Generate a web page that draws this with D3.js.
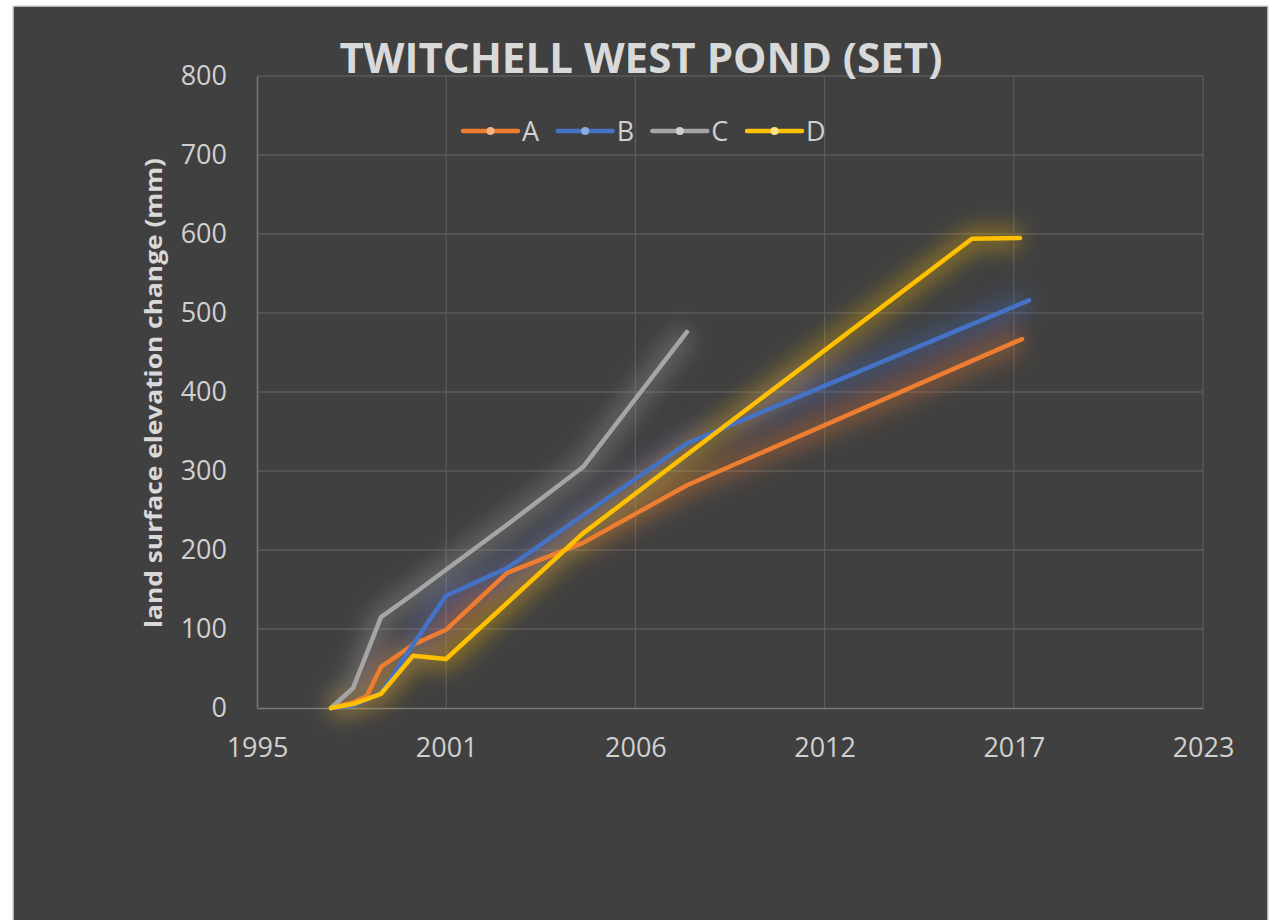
<!DOCTYPE html>
<html>
<head>
<meta charset="utf-8">
<script src="https://cdn.jsdelivr.net/npm/d3@7"></script>
<style>
  body { margin: 0; background: #fff; }
  text { font-family: 'Open Sans', sans-serif; }
</style>
</head>
<body>
<svg id="chart"></svg>
<script>
var width = 1278,
  height = 920;

// series: dates and land surface elevation change (mm)
var datesA = ['1997-12-18', '1998-08-08', '1998-12-30', '1999-05-31', '2000-05-03', '2001-04-17', '2003-01-22', '2005-04-04', '2008-04-07', '2017-12-18'];
var valuesA = [0, 7, 15, 52, 80, 99, 171, 209, 282, 467];

var datesB = ['1997-12-18', '1998-08-08', '1999-05-31', '2000-05-03', '2001-04-17', '2003-01-22', '2005-04-04', '2008-04-07', '2018-03-02'];
var valuesB = [0, 3, 19, 80, 142, 177, 244, 335, 516];

var datesC = ['1997-12-18', '1998-08-08', '1999-05-31', '2000-05-03', '2001-04-17', '2003-01-22', '2005-04-04', '2008-04-07'];
var valuesC = [0, 25, 115, 144, 175, 232, 305, 476];

var datesD = ['1997-12-18', '1998-08-08', '1999-05-31', '2000-05-03', '2001-04-17', '2005-04-04', '2016-07-07', '2017-11-27'];
var valuesD = [0, 5, 18, 66, 62, 221, 594, 595];

var seriesNames = ['A', 'B', 'C', 'D'];
var seriesColors = ['#ed7d31', '#4472c4', '#a5a5a5', '#ffc000'];
var markerColors = ['#f4b183', '#8faadc', '#d0d0d0', '#ffe08a'];

// x axis is an Excel date axis: serial 35000 to 45000, step 2000
var xTickSerials = [35000, 37000, 39000, 41000, 43000, 45000];
var yTicks = [0, 100, 200, 300, 400, 500, 600, 700, 800];

function fromSerial(s) {
  return new Date(Date.UTC(1899, 11, 30) + s * 864e5);
}

var parse = d3.utcParse('%Y-%m-%d');

function makeSeries(dates, values) {
  return dates.map(function(d, i) { return { date: parse(d), value: values[i] }; });
}

var series = [
  makeSeries(datesA, valuesA),
  makeSeries(datesB, valuesB),
  makeSeries(datesC, valuesC),
  makeSeries(datesD, valuesD)
];

var margin = { left: 257, top: 76, right: 1203, bottom: 708 };

var x = d3.scaleUtc()
  .domain([fromSerial(xTickSerials[0]), fromSerial(xTickSerials[xTickSerials.length - 1])])
  .range([margin.left, margin.right]);

var y = d3.scaleLinear()
  .domain([0, 800])
  .range([margin.bottom, margin.top]);

var svg = d3.select('#chart')
  .attr('width', width)
  .attr('height', height);

var defs = svg.append('defs');
defs.append('filter')
  .attr('id', 'glow')
  .attr('x', '-30%').attr('y', '-30%')
  .attr('width', '160%').attr('height', '160%')
  .append('feGaussianBlur')
  .attr('stdDeviation', 11);

// background panel
svg.append('rect')
  .attr('x', 13)
  .attr('y', 6)
  .attr('width', 1255)
  .attr('height', 930)
  .attr('fill', '#404040')
  .attr('stroke', '#d9d9d9')
  .attr('stroke-width', 1.5);

// gridlines
svg.append('g')
  .selectAll('line')
  .data(yTicks.slice(1))
  .enter().append('line')
  .attr('x1', margin.left)
  .attr('x2', margin.right)
  .attr('y1', function(d) { return y(d); })
  .attr('y2', function(d) { return y(d); })
  .attr('stroke', '#5a5a5a')
  .attr('stroke-width', 1.3);

svg.append('g')
  .selectAll('line')
  .data(xTickSerials.slice(1))
  .enter().append('line')
  .attr('x1', function(d) { return x(fromSerial(d)); })
  .attr('x2', function(d) { return x(fromSerial(d)); })
  .attr('y1', margin.top)
  .attr('y2', margin.bottom)
  .attr('stroke', '#5a5a5a')
  .attr('stroke-width', 1.3);

// axes
var xAxis = svg.append('g')
  .attr('transform', 'translate(0,' + margin.bottom + ')')
  .call(d3.axisBottom(x)
    .tickValues(xTickSerials.map(fromSerial))
    .tickFormat(d3.utcFormat('%Y'))
    .tickSize(0)
    .tickPadding(30));
xAxis.select('.domain').attr('stroke', '#7a7a7a').attr('stroke-width', 1.5);
xAxis.selectAll('text')
  .attr('fill', '#d0d0d0')
  .attr('font-size', '27px')
  .attr('font-family', "'Open Sans', sans-serif");

var yAxis = svg.append('g')
  .attr('transform', 'translate(' + margin.left + ',0)')
  .call(d3.axisLeft(y)
    .tickValues(yTicks)
    .tickSize(0)
    .tickPadding(30));
yAxis.select('.domain').attr('stroke', '#7a7a7a').attr('stroke-width', 1.5);
yAxis.selectAll('text')
  .attr('fill', '#d0d0d0')
  .attr('font-size', '27px')
  .attr('font-family', "'Open Sans', sans-serif");

// lines
var line = d3.line()
  .x(function(d) { return x(d.date); })
  .y(function(d) { return y(d.value); });

var glowG = svg.append('g').attr('filter', 'url(#glow)').attr('opacity', 0.4);
glowG.selectAll('path')
  .data(series)
  .enter().append('path')
  .attr('d', line)
  .attr('fill', 'none')
  .attr('stroke', function(d, i) { return seriesColors[i]; })
  .attr('stroke-width', 20)
  .attr('stroke-linejoin', 'round');

svg.append('g')
  .selectAll('path')
  .data(series)
  .enter().append('path')
  .attr('d', line)
  .attr('fill', 'none')
  .attr('stroke', function(d, i) { return seriesColors[i]; })
  .attr('stroke-width', 4.5)
  .attr('stroke-linejoin', 'round')
  .attr('stroke-linecap', 'round');

// title
svg.append('text')
  .attr('x', 641)
  .attr('y', 73)
  .attr('text-anchor', 'middle')
  .attr('fill', '#d9d9d9')
  .attr('font-size', '41px')
  .attr('font-weight', 'bold')
  .attr('textLength', 603)
  .attr('lengthAdjust', 'spacingAndGlyphs')
  .text('TWITCHELL WEST POND (SET)');

// y axis label
svg.append('text')
  .attr('transform', 'translate(162,393) rotate(-90)')
  .attr('text-anchor', 'middle')
  .attr('fill', '#d9d9d9')
  .attr('font-size', '24px')
  .attr('font-weight', 'bold')
  .attr('textLength', 470)
  .attr('lengthAdjust', 'spacingAndGlyphs')
  .text('land surface elevation change (mm)');

// legend
var legendX = d3.scalePoint()
  .domain(seriesNames)
  .range([463, 747]);

var legend = svg.append('g')
  .selectAll('g')
  .data(seriesNames)
  .enter().append('g')
  .attr('transform', function(d) { return 'translate(' + legendX(d) + ',131)'; });

legend.append('line')
  .attr('x1', 0)
  .attr('x2', 55)
  .attr('stroke', function(d, i) { return seriesColors[i]; })
  .attr('stroke-width', 4.5)
  .attr('stroke-linecap', 'round');

legend.append('circle')
  .attr('cx', 27.5)
  .attr('r', 4)
  .attr('fill', function(d, i) { return markerColors[i]; });

legend.append('text')
  .attr('x', 59)
  .attr('y', 10)
  .attr('fill', '#d0d0d0')
  .attr('font-size', '27px')
  .text(function(d) { return d; });
</script>
</body>
</html>
